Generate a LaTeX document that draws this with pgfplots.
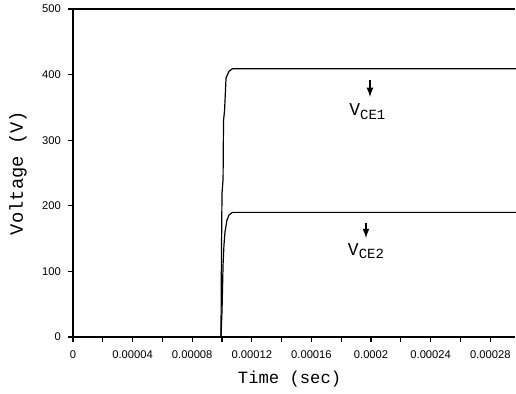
\documentclass[border=0pt]{standalone}
\usepackage{fontspec}
\setmainfont{Liberation Sans}
\setmonofont{Liberation Mono}
\usepackage{pgfplots}
\pgfplotsset{compat=1.18}
\begin{document}
\begin{tikzpicture}[x=1pt,y=1pt]
\path[use as bounding box] (-36.5,168.5) rectangle (221.5,-28);
\begin{axis}[
  scale only axis,
  anchor=south west,
  at={(0pt,0pt)},
  width=221pt, height=164pt,
  xmin=0, xmax=0.0002966,
  ymin=0, ymax=500,
  axis x line*=bottom,
  axis y line*=left,
  axis line style={line width=0.8pt},
  xtick={0,0.00004,0.00008,0.00012,0.00016,0.0002,0.00024,0.00028},
  xticklabels={0,0.00004,0.00008,0.00012,0.00016,0.0002,0.00024,0.00028},
  minor xtick={0.00002,0.00006,0.0001,0.00014,0.00018,0.00022,0.00026},
  ytick={0,100,200,300,400,500},
  yticklabels={0,100,200,300,400,500},
  scaled x ticks=false,
  tick align=outside,
  major tick length=2.5pt,
  minor tick length=2.5pt,
  tick style={line width=0.6pt, black},
  /pgf/number format/assume math mode=true,
  x tick label style={font=\fontsize{5.6}{6}\selectfont, yshift=-1pt},
  y tick label style={font=\fontsize{5.6}{6}\selectfont},
  xlabel={\fontsize{8.6}{10}\selectfont\ttfamily Time (sec)},
  ylabel={\fontsize{9.4}{10}\selectfont\ttfamily Voltage (V)},
  xlabel style={at={(axis description cs:0.49,-0.128)}, anchor=center},
  ylabel style={at={(axis description cs:-0.1244,0.5)}, anchor=center},
  clip=false,
]
% top border
\draw[line width=0.8pt] (rel axis cs:0,1) -- (rel axis cs:1,1);
% V_CE1
\addplot[black, line width=0.6pt] coordinates {
 (0,0) (0.0000993,0) (0.0000996,120) (0.0001,220) (0.0001007,240)
 (0.000101,330) (0.0001017,345) (0.0001027,395) (0.0001047,405)
 (0.000107,409) (0.0003,409)
};
% V_CE2
\addplot[black, line width=0.6pt] coordinates {
 (0,0) (0.0000993,0) (0.0001,40) (0.0001007,110) (0.0001013,140)
 (0.000102,160) (0.0001033,178) (0.0001047,186) (0.000107,190) (0.0003,190)
};
% annotations
\draw[-latex, line width=0.6pt] (axis cs:0.0001993,392) -- (axis cs:0.0001993,366);
\node[font=\ttfamily] at (axis cs:0.0001975,343) {\fontsize{9}{10}\selectfont V\raisebox{-0.4ex}{\fontsize{7}{8}\selectfont CE1}};
\draw[-latex, line width=0.6pt] (axis cs:0.0001966,174) -- (axis cs:0.0001966,151);
\node[font=\ttfamily] at (axis cs:0.0001966,131) {\fontsize{9}{10}\selectfont V\raisebox{-0.4ex}{\fontsize{7}{8}\selectfont CE2}};
\end{axis}
\end{tikzpicture}
\end{document}
